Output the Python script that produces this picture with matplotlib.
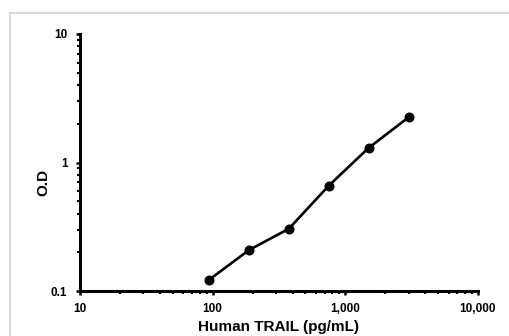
import matplotlib
matplotlib.use("Agg")
import matplotlib.pyplot as plt
from matplotlib.ticker import FixedLocator, FixedFormatter, LogLocator, NullFormatter
from matplotlib.lines import Line2D

plt.rcParams['font.family'] = ['Liberation Sans', 'DejaVu Sans']
plt.rcParams['font.weight'] = 'bold'

concentration = [93.75, 187.5, 375, 750, 1500, 3000]
od = [0.122, 0.208, 0.305, 0.66, 1.30, 2.25]

x_ticks = [10, 100, 1000, 10000]
x_tick_labels = ["10", "100", "1,000", "10,000"]
y_ticks = [0.1, 1, 10]
y_tick_labels = ["0.1", "1", "10"]

W, H = 510, 336
fig = plt.figure(figsize=(W / 100, H / 100), dpi=100)
ax = fig.add_axes([80 / W, 1 - 291 / H, (478 - 80) / W, (291 - 34) / H])

# light gray frame around the chart area
frame_col = '#d9d9d9'
fig.add_artist(Line2D([10.5 / W, 10.5 / W], [0, 1 - 13 / H], transform=fig.transFigure,
                      color=frame_col, lw=1.5))
fig.add_artist(Line2D([10.5 / W, 1], [1 - 13 / H, 1 - 13 / H], transform=fig.transFigure,
                      color=frame_col, lw=1.5))

ax.plot(concentration, od, color='black', lw=1.9, marker='o', markersize=6.2,
        solid_capstyle='round', solid_joinstyle='round', clip_on=False)

ax.set_xscale('log')
ax.set_yscale('log')
ax.set_xlim(10, 10000)
ax.set_ylim(0.1, 10)

ax.xaxis.set_major_locator(FixedLocator(x_ticks))
ax.xaxis.set_major_formatter(FixedFormatter(x_tick_labels))
ax.yaxis.set_major_locator(FixedLocator(y_ticks))
ax.yaxis.set_major_formatter(FixedFormatter(y_tick_labels))
ax.xaxis.set_minor_locator(LogLocator(base=10, subs=range(2, 10)))
ax.yaxis.set_minor_locator(LogLocator(base=10, subs=range(2, 10)))
ax.xaxis.set_minor_formatter(NullFormatter())
ax.yaxis.set_minor_formatter(NullFormatter())

for s in ['top', 'right']:
    ax.spines[s].set_visible(False)
for s in ['left', 'bottom']:
    ax.spines[s].set_linewidth(2.2)

ax.tick_params(axis='both', which='major', direction='out', length=3, width=1.8,
               labelsize=8.5, pad=6)
ax.tick_params(axis='both', which='minor', direction='out', length=2, width=1.5)
for lab in ax.get_xticklabels() + ax.get_yticklabels():
    lab.set_fontweight('bold')

ax.set_xlabel("Human TRAIL (pg/mL)", fontsize=11, fontweight='bold')
ax.xaxis.set_label_coords(0.5, -(334.5 - 291) / 257, transform=ax.transAxes)
ax.xaxis.label.set_va('bottom')
ax.set_ylabel("O.D", fontsize=11, fontweight='bold')
ax.yaxis.set_label_coords(-(80 - 43) / 398, (291 - 182) / 257, transform=ax.transAxes)
ax.yaxis.label.set_va('center')

fig.savefig("out.png", dpi=100, facecolor='white')
